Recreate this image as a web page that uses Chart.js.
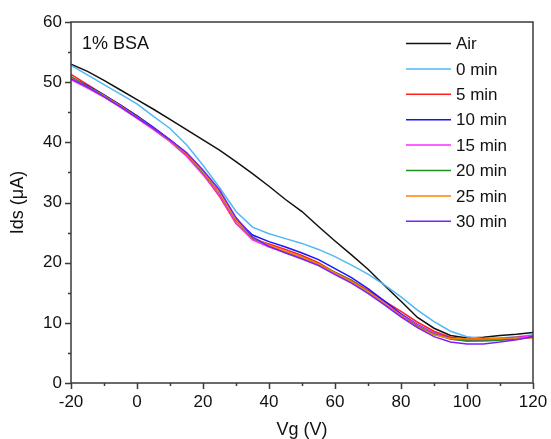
<!DOCTYPE html>
<html>
<head>
<meta charset="utf-8">
<script src="https://cdn.jsdelivr.net/npm/chart.js@4/dist/chart.umd.min.js"></script>
<style>
  html, body { margin: 0; padding: 0; background: #fff; }
  canvas { display: block; }
</style>
</head>
<body>
<canvas id="ivChart" width="551" height="439"></canvas>
<script>
// gate voltage (V), one point every 5 V
const vg = [-20, -15, -10, -5, 0, 5, 10, 15, 20, 25, 30, 35, 40, 45, 50, 55, 60,
            65, 70, 75, 80, 85, 90, 95, 100, 105, 110, 115, 120];

// Ids (uA)
const air   = [53.0, 51.8, 50.3, 48.7, 47.1, 45.5, 43.8, 42.1, 40.4, 38.7, 36.8, 34.8, 32.7, 30.5, 28.5, 26.0, 23.6,
               21.3, 18.9, 16.2, 13.6, 10.9, 9.1, 7.9, 7.5, 7.6, 7.9, 8.1, 8.4];
const min0  = [52.8, 51.2, 49.6, 48.0, 46.4, 44.3, 42.3, 39.6, 36.2, 32.5, 28.5, 25.9, 24.8, 24.0, 23.2, 22.2, 21.0,
               19.6, 18.1, 16.3, 14.3, 12.1, 10.2, 8.6, 7.7, 7.4, 7.5, 7.7, 8.0];
const min5  = [51.3, 49.6, 47.9, 46.2, 44.4, 42.4, 40.4, 38.0, 34.8, 31.0, 26.5, 24.0, 23.1, 22.2, 21.2, 20.0, 18.4,
               17.1, 15.4, 13.6, 11.9, 10.1, 8.6, 7.6, 7.3, 7.4, 7.4, 7.6, 7.8];
const min10 = [50.8, 49.4, 47.9, 46.2, 44.4, 42.5, 40.4, 38.2, 35.2, 31.8, 27.2, 24.6, 23.5, 22.6, 21.6, 20.5, 19.0,
               17.5, 15.7, 13.6, 11.5, 9.7, 8.3, 7.4, 7.1, 7.2, 7.3, 7.5, 7.8];
const min15 = [50.4, 49.0, 47.5, 45.8, 44.0, 42.1, 40.1, 37.7, 34.6, 31.2, 26.6, 23.8, 22.6, 21.7, 20.8, 19.7, 18.2,
               16.8, 15.2, 13.3, 11.3, 9.6, 8.3, 7.3, 7.0, 7.1, 7.2, 7.5, 7.9];
const min20 = [50.9, 49.3, 47.8, 46.0, 44.2, 42.3, 40.3, 38.0, 35.0, 31.6, 27.0, 24.1, 22.8, 21.8, 20.9, 19.8, 18.4,
               17.0, 15.2, 13.2, 11.1, 9.4, 8.1, 7.3, 7.0, 7.0, 7.1, 7.3, 7.6];
const min25 = [50.7, 49.2, 47.7, 46.0, 44.2, 42.3, 40.3, 38.1, 35.1, 31.7, 27.1, 24.2, 22.9, 21.9, 20.9, 19.8, 18.3,
               16.9, 15.2, 13.2, 11.1, 9.3, 8.0, 7.4, 7.3, 7.3, 7.4, 7.5, 7.5];
const min30 = [50.6, 49.2, 47.6, 45.9, 44.1, 42.3, 40.4, 38.3, 35.4, 32.1, 27.5, 24.3, 22.7, 21.6, 20.6, 19.5, 18.0,
               16.6, 14.9, 13.0, 11.0, 9.2, 7.7, 6.8, 6.5, 6.5, 6.8, 7.2, 7.7];

const seriesNames  = ['Air', '0 min', '5 min', '10 min', '15 min', '20 min', '25 min', '30 min'];
const seriesValues = [air, min0, min5, min10, min15, min20, min25, min30];
const seriesColors = ['#111111', '#4fb8f5', '#ff1f1f', '#1414ff', '#ff2bff', '#1f8f1f', '#ff8000', '#7a1fff'];

const xTicks = [-20, 0, 20, 40, 60, 80, 100, 120];
const yTicks = [0, 10, 20, 30, 40, 50, 60];

const FONT = 'Arial, "Liberation Sans", sans-serif';
const AXIS_COLOR = '#3a3a3a';

// frame, minor/major ticks, legend and annotation
const decorations = {
  id: 'decorations',
  afterDraw(chart) {
    const c = chart.ctx;
    const a = chart.chartArea;
    const xs = chart.scales.x, ys = chart.scales.y;
    c.save();
    c.strokeStyle = AXIS_COLOR;
    c.lineWidth = 1.5;
    c.beginPath();
    c.rect(a.left, a.top, a.right - a.left, a.bottom - a.top);
    c.stroke();

    c.beginPath();
    for (let v = -20; v <= 120; v += 10) {
      const px = Math.round(xs.getPixelForValue(v)) + 0.5;
      const len = (v % 20 === 0) ? 6 : 3;
      c.moveTo(px, a.bottom);
      c.lineTo(px, a.bottom + len);
    }
    for (let v = 0; v <= 60; v += 5) {
      const py = Math.round(ys.getPixelForValue(v)) + 0.5;
      const len = (v % 10 === 0) ? 6 : 3;
      c.moveTo(a.left, py);
      c.lineTo(a.left - len, py);
    }
    c.stroke();

    // annotation
    c.fillStyle = '#111';
    c.font = '18px ' + FONT;
    c.textBaseline = 'middle';
    c.textAlign = 'left';
    c.fillText('1% BSA', 82, 44);

    // legend
    c.font = '17px ' + FONT;
    chart.data.datasets.forEach((ds, i) => {
      const y = 43.5 + i * 25.4;
      c.strokeStyle = ds.borderColor;
      c.lineWidth = 1.5;
      c.beginPath();
      c.moveTo(406, y);
      c.lineTo(451, y);
      c.stroke();
      c.fillStyle = '#111';
      c.fillText(ds.label, 456, y + 1);
    });
    c.restore();
  }
};

const datasets = seriesNames.map((name, i) => ({
  label: name,
  data: vg.map((v, k) => ({ x: v, y: seriesValues[i][k] })),
  borderColor: seriesColors[i],
  backgroundColor: seriesColors[i],
  borderWidth: 1.5,
  pointRadius: 0,
  tension: 0,
  fill: false,
  order: seriesNames.length - i
}));

const ctx = document.getElementById('ivChart').getContext('2d');
const chart = new Chart(ctx, {
  type: 'line',
  data: { datasets },
  options: {
    responsive: false,
    animation: false,
    devicePixelRatio: 1,
    layout: { padding: { top: 22, right: 18, bottom: 0, left: 0 } },
    plugins: {
      legend: { display: false },
      tooltip: { enabled: false }
    },
    scales: {
      x: {
        type: 'linear',
        min: -20,
        max: 120,
        afterBuildTicks: s => { s.ticks = xTicks.map(v => ({ value: v })); },
        afterFit: s => { s.height = 56; s.paddingLeft = 0; s.paddingRight = 0; },
        grid: { display: false, drawTicks: false },
        border: { display: false },
        ticks: { color: '#111', font: { family: FONT, size: 17 }, padding: 9, maxRotation: 0 },
        title: { display: true, text: 'Vg (V)', color: '#111', font: { family: FONT, size: 18 }, padding: { top: 0, bottom: -2 } }
      },
      y: {
        min: 0,
        max: 60,
        afterBuildTicks: s => { s.ticks = yTicks.map(v => ({ value: v })); },
        afterFit: s => { s.width = 71; s.paddingTop = 0; s.paddingBottom = 0; },
        grid: { display: false, drawTicks: false },
        border: { display: false },
        ticks: { color: '#111', font: { family: FONT, size: 17 }, padding: 9 },
        title: { display: true, text: 'Ids (\u03bcA)', color: '#111', font: { family: FONT, size: 18 }, padding: { top: 7, bottom: 0 } }
      }
    }
  },
  plugins: [decorations]
});
</script>
</body>
</html>
